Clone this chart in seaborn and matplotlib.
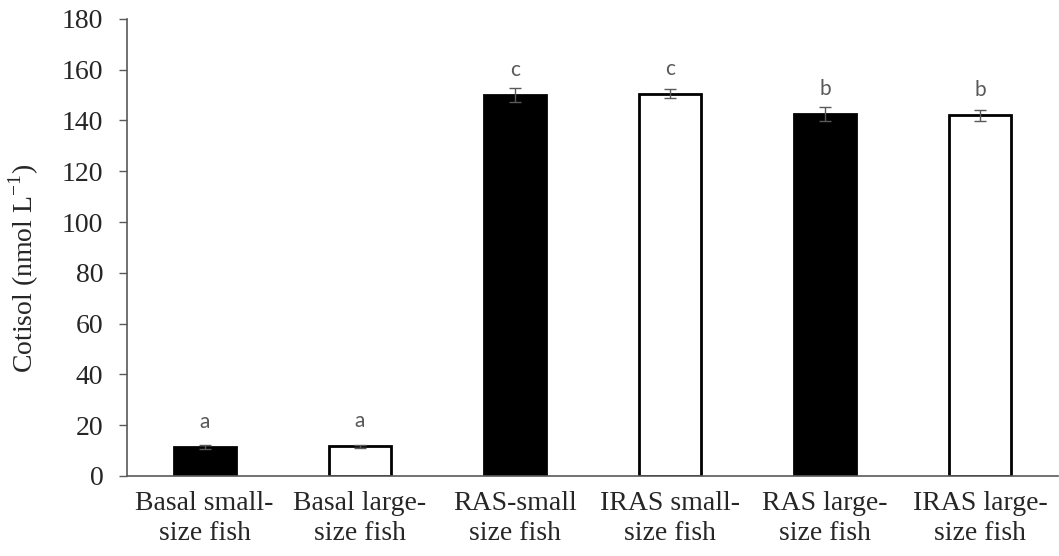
import matplotlib
matplotlib.use("Agg")
import matplotlib.pyplot as plt
import seaborn as sns
import numpy as np
import pandas as pd

categories = ["Basal small-\nsize fish", "Basal large-\nsize fish", "RAS-small\nsize fish",
              "IRAS small-\nsize fish", "RAS large-\nsize fish", "IRAS large-\nsize fish"]
values = [11.4, 11.6, 150.0, 150.6, 142.6, 142.0]
errors = [0.6, 0.5, 2.7, 1.9, 2.7, 2.3]
letters = ["a", "a", "c", "c", "b", "b"]
fills = ["black", "white", "black", "white", "black", "white"]

sns.set_style("white")
plt.rcParams['font.family'] = ['Liberation Serif', 'DejaVu Serif']

df = pd.DataFrame({"cat": categories, "val": values, "fill": fills})

fig = plt.figure(figsize=(10.59, 5.56), dpi=100)
ax = fig.add_axes([0.12, 0.144, 0.879, 0.822])
sns.barplot(data=df, x="cat", y="val", hue="cat", palette=dict(zip(categories, fills)),
            width=0.4, edgecolor="black", linewidth=2, legend=False, ax=ax, errorbar=None)
x = np.arange(len(categories))
ax.errorbar(x, values, yerr=errors, fmt="none", ecolor="#595959", elinewidth=1.0,
            capsize=4, capthick=1.0)
for xi, v, l in zip(x, values, letters):
    ax.text(xi, v + 7.5, l, ha="center", va="baseline", fontsize=15,
            color="#595959", family=["Lato", "DejaVu Sans"])

ax.set_ylim(0, 180)
ax.set_xlim(-0.5, 5.5)
ax.set_yticks(np.arange(0, 181, 20))
ax.set_xlabel("")
ax.set_ylabel("Cotisol (nmol L$^{\\mathregular{-1}}$)", fontsize=20)
ax.yaxis.set_label_coords(-0.092, 0.453)
ax.tick_params(axis="y", labelsize=20, length=6, width=1, direction="out", left=True,
               color="#595959", pad=11)
ax.tick_params(axis="x", labelsize=20, length=0, pad=11)
for lab in ax.get_xticklabels():
    lab.set_linespacing(1.25)
for s in ["top", "right"]:
    ax.spines[s].set_visible(False)
for s in ["left", "bottom"]:
    ax.spines[s].set_color("#595959")
    ax.spines[s].set_linewidth(1.2)

fig.savefig("out.png", dpi=100)
